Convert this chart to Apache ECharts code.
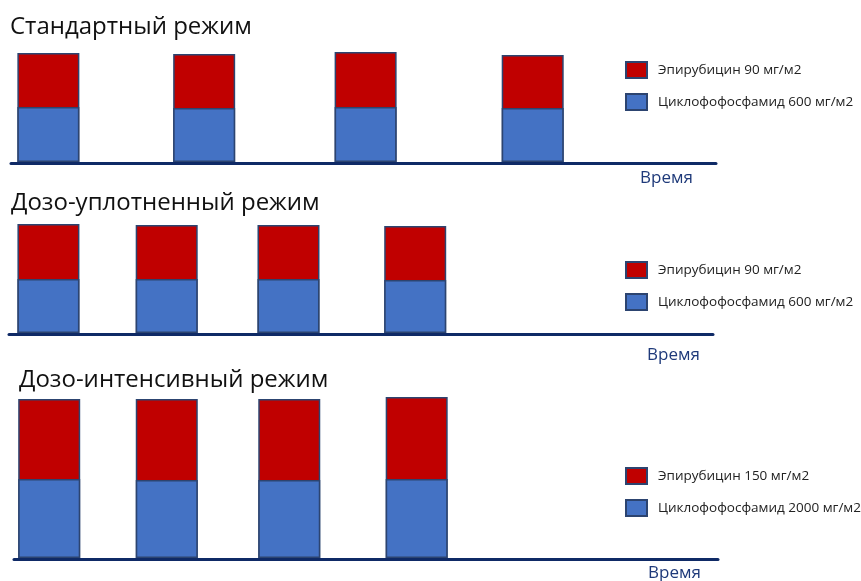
<!DOCTYPE html>
<html>
<head>
<meta charset="utf-8">
<script src="https://cdn.jsdelivr.net/npm/echarts@6/dist/echarts.min.js"></script>
<style>
  html, body { margin: 0; padding: 0; background: #ffffff; }
  #chart { width: 861px; height: 581px; }
</style>
</head>
<body>
<div id="chart"></div>
<script>
// Regimen titles and the time-axis caption
const panelTitles = ['Стандартный режим', 'Дозо-уплотненный режим', 'Дозо-интенсивный режим'];
const timeCaption = 'Время';

// Cycle positions along the time axis (0–100 scale of each panel)
const standardTimes = [5.3, 27.4, 50.3, 74.0];
const denseTimes = [5.6, 22.4, 39.7, 57.7];
const intensiveTimes = [5.0, 21.7, 39.1, 57.2];

// Relative dose block heights per cycle
const standardCyclo = [55, 54, 55, 54];
const standardEpi = [54, 54, 55, 53];
const denseCyclo = [54, 54, 54, 53];
const denseEpi = [55, 54, 54, 54];
const intensiveCyclo = [79, 78, 78, 79];
const intensiveEpi = [80, 81, 81, 82];

// Legend names per panel
const epiNames = ['Эпирубицин 90 мг/м2', 'Эпирубицин 90 мг/м2', 'Эпирубицин 150 мг/м2'];
const cycloNames = ['Циклофофосфамид 600 мг/м2', 'Циклофофосфамид 600 мг/м2', 'Циклофофосфамид 2000 мг/м2'];

const panels = [
  { times: standardTimes, cyclo: standardCyclo, epi: standardEpi,
    grid: { left: 11, top: 42, width: 705, height: 120 }, yMax: 120,
    titleTop: 15, titleLeft: 10, capLeft: 640, capTop: 170, legendTop: 61 },
  { times: denseTimes, cyclo: denseCyclo, epi: denseEpi,
    grid: { left: 9, top: 213, width: 704, height: 120 }, yMax: 120,
    titleTop: 191, titleLeft: 11, capLeft: 647, capTop: 347, legendTop: 261 },
  { times: intensiveTimes, cyclo: intensiveCyclo, epi: intensiveEpi,
    grid: { left: 14, top: 388, width: 704, height: 170 }, yMax: 170,
    titleTop: 368, titleLeft: 19, capLeft: 648, capTop: 565, legendTop: 467 }
];

const RED = '#c00000';
const BLUE = '#4472c4';
const OUTLINE = '#2c4470';
const NAVY = '#0f2a66';
const FONT = '"Open Sans", "Noto Sans", sans-serif';

const option = {
  animation: false,
  backgroundColor: '#ffffff',
  title: [],
  legend: [],
  grid: [],
  xAxis: [],
  yAxis: [],
  series: []
};

panels.forEach((p, i) => {
  option.grid.push(p.grid);
  option.xAxis.push({
    type: 'value', gridIndex: i, min: 0, max: 100, offset: 1.5,
    axisLine: { show: true, onZero: false, lineStyle: { color: NAVY, width: 3 } },
    axisTick: { show: false }, axisLabel: { show: false }, splitLine: { show: false }
  });
  option.yAxis.push({
    type: 'value', gridIndex: i, min: 0, max: p.yMax, show: false
  });

  option.title.push({
    text: panelTitles[i], left: p.titleLeft, top: p.titleTop, padding: 0,
    textStyle: { fontFamily: FONT, fontSize: 24, fontWeight: 'normal', color: '#111111' }
  });
  option.title.push({
    text: timeCaption, left: p.capLeft, top: p.capTop, padding: 0,
    textStyle: { fontFamily: FONT, fontSize: 17, fontWeight: 'normal', color: '#1f3a7a' }
  });

  option.legend.push({
    orient: 'vertical', left: 625, top: p.legendTop, padding: 0,
    icon: 'rect', itemWidth: 21, itemHeight: 16, itemGap: 14,
    selectedMode: false,
    data: [epiNames[i], cycloNames[i]],
    textStyle: { fontFamily: FONT, fontSize: 13.5, color: '#222222', padding: [0, 0, 0, 6] }
  });

  const style = (c) => ({ color: c, borderColor: OUTLINE, borderWidth: 1.5 });
  // Epirubicin block sits on top of cyclophosphamide: drawn as the full
  // cycle total, with the cyclophosphamide bar overlaid at the base.
  option.series.push({
    type: 'bar', name: epiNames[i],
    xAxisIndex: i, yAxisIndex: i, barWidth: 62, barGap: '-100%',
    itemStyle: style(RED),
    data: p.times.map((t, k) => [t, p.cyclo[k] + p.epi[k]])
  });
  option.series.push({
    type: 'bar', name: cycloNames[i],
    xAxisIndex: i, yAxisIndex: i, barWidth: 62, barGap: '-100%',
    itemStyle: style(BLUE),
    data: p.times.map((t, k) => [t, p.cyclo[k]])
  });
});

const chart = echarts.init(document.getElementById('chart'), null, { renderer: 'canvas' });
chart.setOption(option);
</script>
</body>
</html>
